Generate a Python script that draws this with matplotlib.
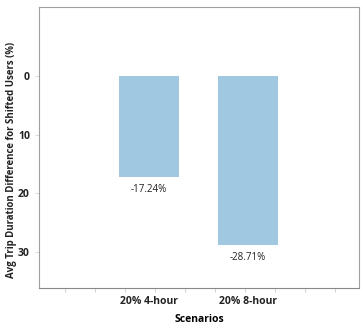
from matplotlib import pyplot as plt
from matplotlib.ticker import FuncFormatter
import numpy as np

plt.rcParams['font.family'] = ['Open Sans', 'DejaVu Sans']

scenarios = ['20% 4-hour', '20% 8-hour']
diff = [-17.24, -28.71]
yticks = [0, -10, -20, -30]

fig = plt.figure(figsize=(3.64, 3.24), dpi=100)
ax = fig.add_axes([39/364, 1 - 288/324, 320/364, 281/324])

x = np.arange(len(scenarios))
ax.bar(x, diff, width=0.6, color='#a0c8e1')

for xi, v in zip(x, diff):
    ax.text(xi, v - 1.2, '%.2f%%' % v, ha='center', va='top',
            fontsize=7, color='#222222')

ax.set_xlim(-1.11, 2.12)
ax.set_ylim(-36.1, 11.75)
ax.set_yticks(yticks)
ax.yaxis.set_major_formatter(FuncFormatter(lambda v, p: '%d' % abs(v)))
ax.set_xticks(x)
ax.set_xticklabels(scenarios)
ax.set_xticks(np.arange(-0.848, 2.1, 0.303), minor=True)

for lab in ax.get_xticklabels() + ax.get_yticklabels():
    lab.set_fontweight('bold')
ax.tick_params(axis='x', which='major', length=0, labelsize=7.5, pad=6, labelcolor='#222222')
ax.tick_params(axis='x', which='minor', length=3, color='#cccccc', direction='out')
ax.tick_params(axis='y', length=3, color='#dddddd', labelsize=7.5, labelcolor='#222222')

for s in ax.spines.values():
    s.set_color('#a0a0a0')
ax.spines['bottom'].set_color('#888888')

ax.set_xlabel('Scenarios', fontsize=7.5, fontweight='bold', labelpad=5)
ax.set_ylabel('Avg Trip Duration Difference for Shifted Users (%)',
              fontsize=6.9, fontweight='bold', color='#222222')
ax.yaxis.set_label_coords(-0.07, 0.455)

fig.savefig('out.png', dpi=100)
